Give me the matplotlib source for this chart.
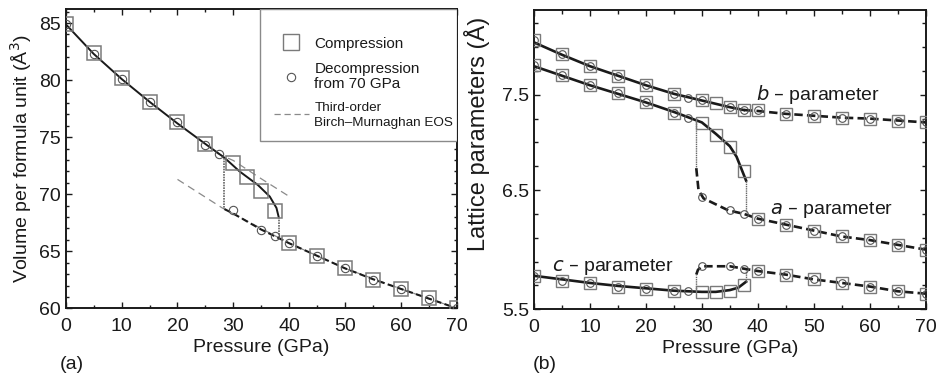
import numpy as np
import matplotlib.pyplot as plt
from matplotlib.lines import Line2D
from matplotlib.patches import Rectangle
from matplotlib.ticker import MultipleLocator, FixedLocator, NullFormatter

plt.rcParams['font.family'] = ['Liberation Sans', 'DejaVu Sans']

# ---- (a) volume vs pressure ----
pa_comp_p = [0, 5, 10, 15, 20, 25, 30, 32.5, 35, 37.5, 40, 45, 50, 55, 60, 65, 70]
pa_comp_v = [84.9, 82.4, 80.2, 78.1, 76.3, 74.4, 72.7, 71.5, 70.3, 68.5, 65.7, 64.6, 63.5, 62.5, 61.7, 60.9, 60.0]
pa_dec_p = [0, 5, 10, 15, 20, 25, 27.5, 30, 35, 37.5, 40, 45, 50, 55, 60, 65, 70]
pa_dec_v = [84.9, 82.3, 80.1, 78.1, 76.3, 74.3, 73.5, 68.6, 66.9, 66.3, 65.7, 64.6, 63.5, 62.5, 61.7, 60.8, 60.0]

fit_lo_p = [0, 5, 10, 15, 20, 25, 28.4, 31.1, 34.4, 36.5, 37.7, 38.1]
fit_lo_v = [84.9, 82.3, 80.1, 78.1, 76.2, 74.4, 73.2, 72.0, 70.8, 69.8, 68.8, 68.0]
fit_hi_p = [28.4, 30, 35, 37.5, 40, 45, 50, 55, 60, 65, 70]
fit_hi_v = [68.7, 68.3, 66.9, 66.3, 65.7, 64.6, 63.5, 62.55, 61.7, 60.85, 60.0]
eos_lo_p = [27, 30, 35, 40]
eos_lo_v = [73.6, 72.95, 71.35, 69.8]
eos_hi_p = [20, 28, 40, 50, 60, 70]
eos_hi_v = [71.3, 68.8, 65.7, 63.5, 61.7, 60.0]
jump_a = [(28.4, 73.2, 68.7), (38.1, 68.0, 66.2)]

# ---- (b) lattice parameters ----
pb_comp_p = [0, 5, 10, 15, 20, 25, 30, 32.5, 35, 37.5, 40, 45, 50, 55, 60, 65, 70]
pb_dec_p = [0, 5, 10, 15, 20, 25, 27.5, 30, 35, 37.5, 40, 45, 50, 55, 60, 65, 70]
b_comp = [8.07, 7.93, 7.80, 7.70, 7.60, 7.51, 7.45, 7.41, 7.37, 7.34, 7.34, 7.30, 7.28, 7.26, 7.25, 7.23, 7.21]
b_dec = [8.07, 7.93, 7.80, 7.70, 7.60, 7.51, 7.47, 7.44, 7.37, 7.34, 7.34, 7.30, 7.28, 7.26, 7.25, 7.23, 7.21]
a_comp = [7.81, 7.71, 7.60, 7.52, 7.42, 7.31, 7.20, 7.08, 6.95, 6.70, 6.26, 6.21, 6.16, 6.11, 6.08, 6.04, 6.00]
a_dec = [7.81, 7.71, 7.60, 7.52, 7.42, 7.31, 7.26, 6.44, 6.33, 6.30, 6.26, 6.21, 6.16, 6.11, 6.08, 6.04, 6.00]
c_comp = [5.78, 5.74, 5.72, 5.69, 5.67, 5.65, 5.64, 5.64, 5.65, 5.70, 5.82, 5.79, 5.75, 5.72, 5.69, 5.65, 5.63]
c_dec = [5.78, 5.74, 5.72, 5.69, 5.67, 5.65, 5.65, 5.86, 5.86, 5.84, 5.82, 5.79, 5.75, 5.72, 5.69, 5.65, 5.63]

b_lo_p = [0, 5, 10, 15, 20, 25, 30, 35, 37.5]
b_lo = [8.05, 7.92, 7.80, 7.70, 7.60, 7.51, 7.44, 7.37, 7.34]
b_hi_p = [37.5, 40, 45, 50, 55, 60, 65, 70]
b_hi = [7.34, 7.33, 7.30, 7.28, 7.26, 7.25, 7.23, 7.21]
a_lo_p = [0, 5, 10, 15, 20, 25, 30, 32.5, 35, 36.2, 37.9]
a_lo = [7.80, 7.70, 7.60, 7.51, 7.42, 7.32, 7.21, 7.09, 6.96, 6.85, 6.60]
a_hi_p = [29.0, 29.4, 30.3, 34.7, 37.5, 40, 45, 50, 55, 60, 65, 70]
a_hi = [6.73, 6.50, 6.43, 6.33, 6.30, 6.26, 6.21, 6.16, 6.11, 6.08, 6.04, 6.00]
c_lo_p = [0, 5, 10, 15, 20, 25, 30, 32.5, 35, 36.5, 37.9]
c_lo = [5.78, 5.75, 5.72, 5.695, 5.675, 5.655, 5.645, 5.645, 5.66, 5.68, 5.73]
c_hi_p = [29.0, 29.3, 30, 35, 37.5, 40, 45, 50, 55, 60, 65, 70]
c_hi = [5.79, 5.83, 5.86, 5.86, 5.84, 5.82, 5.79, 5.75, 5.72, 5.69, 5.65, 5.63]
jump_b = [(29.0, 7.22, 6.73), (37.9, 6.60, 6.30), (29.0, 5.65, 5.79), (37.9, 5.73, 5.84)]

ink = '#1a1a1a'
sq_col = '#7a7a7a'
ci_col = '#555555'
dash = (0, (3.2, 1.6))


def lattice_fwd(v):
    v = np.asarray(v, dtype=float)
    return np.where(v <= 6.5, (v - 5.5) / 0.2, 5 + (v - 6.5) / 0.25)


def lattice_inv(t):
    t = np.asarray(t, dtype=float)
    return np.where(t <= 5, 5.5 + 0.2 * t, 6.5 + 0.25 * (t - 5))


def style_axes(ax):
    for s in ax.spines.values():
        s.set_linewidth(1.4)
        s.set_color(ink)
    ax.tick_params(which='both', direction='in', top=True, right=True,
                   labelsize=14, colors=ink, width=1.0)
    ax.tick_params(axis='x', which='both', pad=7)
    ax.tick_params(which='major', length=4)
    ax.tick_params(which='minor', length=2.5)
    ax.set_xlim(0, 70)
    ax.xaxis.set_major_locator(MultipleLocator(10))
    ax.xaxis.set_minor_locator(MultipleLocator(5))
    ax.set_xlabel('Pressure (GPa)', fontsize=14, color=ink, labelpad=3)


fig = plt.figure(figsize=(9.41, 3.77), dpi=100)
ax1 = fig.add_axes([0.0698, 0.182, 0.4159, 0.7933])
ax2 = fig.add_axes([0.5675, 0.180, 0.4162, 0.7935])

# panel (a)
ax1.plot(eos_lo_p, eos_lo_v, color='#8a8a8a', lw=0.9, ls=(0, (6, 4)), zorder=1)
ax1.plot(eos_hi_p, eos_hi_v, color='#8a8a8a', lw=0.9, ls=(0, (6, 4)), zorder=1)
ax1.plot(fit_lo_p, fit_lo_v, color=ink, lw=1.4, zorder=2)
ax1.plot(fit_hi_p, fit_hi_v, color=ink, lw=1.5, ls=dash, zorder=2)
for x, y0, y1 in jump_a:
    ax1.plot([x, x], [y0, y1], color='#666666', lw=1.2, ls=(0, (1, 0.6)), zorder=2)
ax1.plot(pa_comp_p, pa_comp_v, ls='none', marker='s', ms=10, mfc='none',
         mec=sq_col, mew=1.1, zorder=3)
ax1.plot(pa_dec_p, pa_dec_v, ls='none', marker='o', ms=6, mfc='none',
         mec=ci_col, mew=0.8, zorder=3)
ax1.set_ylim(60, 86.2)
ax1.yaxis.set_major_locator(MultipleLocator(5))
ax1.yaxis.set_minor_locator(MultipleLocator(1))
ax1.set_ylabel('Volume per formula unit (Å$^3$)', fontsize=14, color=ink, labelpad=4)
style_axes(ax1)

# legend box drawn separately so the entries can sit lower inside it
ax1.add_patch(Rectangle((0.4966, 0.5595), 0.5034, 0.4405, transform=ax1.transAxes,
                        facecolor='white', edgecolor='#8a8a8a', lw=1.0, zorder=4))
handles = [
    Line2D([], [], ls='none', marker='s', ms=12, mfc='none', mec=sq_col, mew=1.0),
    Line2D([], [], ls='none', marker='o', ms=6, mfc='none', mec=ci_col, mew=0.8),
    Line2D([], [], color='#8a8a8a', lw=0.9, ls=(0, (5, 3))),
]
labels = ['Compression', 'Decompression\nfrom 70 GPa', 'Third-order\nBirch\u2013Murnaghan EOS']
leg = ax1.legend(handles, labels, loc='upper left', bbox_to_anchor=(0.532, 0.908),
                 borderaxespad=0, borderpad=0, fontsize=11, frameon=False,
                 handlelength=2.3, handletextpad=0.35, labelspacing=0.72)
leg.set_zorder(5)
for t in leg.get_texts():
    t.set_color(ink)
    t.set_linespacing(1.1)
leg.get_texts()[2].set_fontsize(9.7)
leg.get_texts()[2].set_linespacing(1.3)
fig.text(0.064, 0.022, '(a)', fontsize=14, color=ink)

# panel (b)
ax2.set_yscale('function', functions=(lattice_fwd, lattice_inv))
for p_lo, v_lo, p_hi, v_hi in [(b_lo_p, b_lo, b_hi_p, b_hi),
                               (a_lo_p, a_lo, a_hi_p, a_hi),
                               (c_lo_p, c_lo, c_hi_p, c_hi)]:
    ax2.plot(p_lo, v_lo, color=ink, lw=1.9, zorder=2)
    ax2.plot(p_hi, v_hi, color=ink, lw=1.9, ls=dash, zorder=2)
for x, y0, y1 in jump_b:
    ax2.plot([x, x], [y0, y1], color='#666666', lw=1.0, ls=(0, (1, 0.6)), zorder=2)
for vals in (b_comp, a_comp, c_comp):
    ax2.plot(pb_comp_p, vals, ls='none', marker='s', ms=8.5, mfc='none',
             mec=sq_col, mew=1.0, zorder=3)
for vals in (b_dec, a_dec, c_dec):
    ax2.plot(pb_dec_p, vals, ls='none', marker='o', ms=5.5, mfc='none',
             mec=ci_col, mew=0.8, zorder=3)
ax2.set_ylim(5.5, 8.39)
ax2.yaxis.set_major_locator(FixedLocator([5.5, 6.5, 7.5]))
ax2.yaxis.set_minor_locator(FixedLocator([5.7, 5.9, 6.1, 6.3, 6.75, 7.0, 7.25, 7.75, 8.0, 8.25]))
ax2.yaxis.set_minor_formatter(NullFormatter())
ax2.set_yticklabels(['5.5', '6.5', '7.5'])
ax2.set_ylabel('Lattice parameters (Å)', fontsize=17, color=ink)
style_axes(ax2)
ax2.yaxis.set_label_coords(-0.112, 0.585)
ax2.tick_params(which='minor', length=3)

ax2.text(39.6, 7.5, '$b$ \u2013 parameter', fontsize=14, color=ink, va='center')
ax2.text(42.2, 6.33, '$a$ \u2013 parameter', fontsize=14, color=ink, va='center')
ax2.text(3.3, 5.85, '$c$ \u2013 parameter', fontsize=14, color=ink, va='center')
fig.text(0.566, 0.022, '(b)', fontsize=14, color=ink)

fig.savefig('out.png', dpi=100)
